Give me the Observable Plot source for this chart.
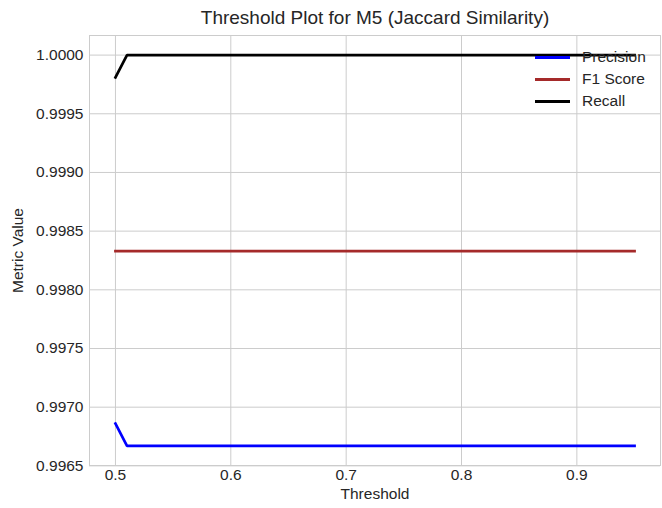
<!DOCTYPE html>
<html>
<head>
<meta charset="utf-8">
<script src="https://cdn.jsdelivr.net/npm/d3@7"></script>
<script src="https://cdn.jsdelivr.net/npm/@observablehq/plot@0.6"></script>
<style>
  html, body { margin: 0; padding: 0; background: #fff; }
  #wrap { position: relative; width: 662px; height: 508px; font-family: "Liberation Sans", Arial, sans-serif; color: #262626; }
  #title { box-sizing: border-box; height: 34px; padding-top: 8px; line-height: 19px; font-size: 19px; text-align: center; padding-left: 88px; }
  #legend { position: absolute; left: 535px; top: 46px; font-size: 15.5px; }
  .item { display: flex; align-items: center; height: 22.2px; }
  .swatch { width: 35px; height: 3px; margin-right: 12px; }
</style>
</head>
<body>
<div id="wrap">
  <div id="title">Threshold Plot for M5 (Jaccard Similarity)</div>
  <div id="chart"></div>
  <div id="legend"></div>
</div>
<script>
const thresholds = [0.50, 0.51, 0.52, 0.53, 0.54, 0.55, 0.56, 0.57, 0.58, 0.59,
                    0.60, 0.61, 0.62, 0.63, 0.64, 0.65, 0.66, 0.67, 0.68, 0.69,
                    0.70, 0.71, 0.72, 0.73, 0.74, 0.75, 0.76, 0.77, 0.78, 0.79,
                    0.80, 0.81, 0.82, 0.83, 0.84, 0.85, 0.86, 0.87, 0.88, 0.89,
                    0.90, 0.91, 0.92, 0.93, 0.94, 0.95];
const precision = [0.99686, 0.99667, 0.99667, 0.99667, 0.99667, 0.99667, 0.99667, 0.99667, 0.99667, 0.99667,
                   0.99667, 0.99667, 0.99667, 0.99667, 0.99667, 0.99667, 0.99667, 0.99667, 0.99667, 0.99667,
                   0.99667, 0.99667, 0.99667, 0.99667, 0.99667, 0.99667, 0.99667, 0.99667, 0.99667, 0.99667,
                   0.99667, 0.99667, 0.99667, 0.99667, 0.99667, 0.99667, 0.99667, 0.99667, 0.99667, 0.99667,
                   0.99667, 0.99667, 0.99667, 0.99667, 0.99667, 0.99667];
const f1 = [0.99833, 0.99833, 0.99833, 0.99833, 0.99833, 0.99833, 0.99833, 0.99833, 0.99833, 0.99833,
            0.99833, 0.99833, 0.99833, 0.99833, 0.99833, 0.99833, 0.99833, 0.99833, 0.99833, 0.99833,
            0.99833, 0.99833, 0.99833, 0.99833, 0.99833, 0.99833, 0.99833, 0.99833, 0.99833, 0.99833,
            0.99833, 0.99833, 0.99833, 0.99833, 0.99833, 0.99833, 0.99833, 0.99833, 0.99833, 0.99833,
            0.99833, 0.99833, 0.99833, 0.99833, 0.99833, 0.99833];
const recall = [0.99981, 1.0, 1.0, 1.0, 1.0, 1.0, 1.0, 1.0, 1.0, 1.0,
                1.0, 1.0, 1.0, 1.0, 1.0, 1.0, 1.0, 1.0, 1.0, 1.0,
                1.0, 1.0, 1.0, 1.0, 1.0, 1.0, 1.0, 1.0, 1.0, 1.0,
                1.0, 1.0, 1.0, 1.0, 1.0, 1.0, 1.0, 1.0, 1.0, 1.0,
                1.0, 1.0, 1.0, 1.0, 1.0, 1.0];
const seriesNames = ["Precision", "F1 Score", "Recall"];
const seriesColors = ["#0000ff", "#a52a2a", "#000000"];
const xTicks = [0.5, 0.6, 0.7, 0.8, 0.9];
const yTicks = [0.9965, 0.9970, 0.9975, 0.9980, 0.9985, 0.9990, 0.9995, 1.0000];

const seriesValues = [precision, f1, recall];
const rows = [];
seriesNames.forEach((name, i) => {
  thresholds.forEach((t, j) => rows.push({series: name, threshold: t, value: seriesValues[i][j]}));
});

const chart = Plot.plot({
  width: 662,
  height: 474,
  marginLeft: 89,
  marginRight: 2,
  marginTop: 1,
  marginBottom: 43,
  style: {fontFamily: '"Liberation Sans", Arial, sans-serif', fontSize: "15.5px", color: "#262626", background: "#fff"},
  x: {domain: [0.4775, 0.9725]},
  y: {domain: [0.996503, 1.000167]},
  color: {domain: seriesNames, range: seriesColors},
  marks: [
    Plot.gridX(xTicks, {stroke: "#cccccc", strokeOpacity: 1, strokeWidth: 1}),
    Plot.gridY(yTicks, {stroke: "#cccccc", strokeOpacity: 1, strokeWidth: 1}),
    Plot.frame({stroke: "#cccccc", strokeWidth: 1}),
    Plot.axisX(xTicks, {tickSize: 0, tickPadding: 3, tickFormat: d3.format(".1f"), label: "Threshold", labelAnchor: "center", labelArrow: "none", labelOffset: 33}),
    Plot.axisY(yTicks, {tickSize: 0, tickPadding: 6, tickFormat: d3.format(".4f"), label: "Metric Value", labelAnchor: "center", labelArrow: "none", labelOffset: 78}),
    Plot.line(rows, {x: "threshold", y: "value", z: "series", stroke: "series", strokeWidth: 2.7, strokeLinejoin: "miter", strokeLinecap: "square"})
  ]
});
document.getElementById("chart").appendChild(chart);

const legend = document.getElementById("legend");
seriesNames.forEach((name, i) => {
  const item = document.createElement("div");
  item.className = "item";
  const sw = document.createElement("span");
  sw.className = "swatch";
  sw.style.background = seriesColors[i];
  const tx = document.createElement("span");
  tx.textContent = name;
  item.appendChild(sw);
  item.appendChild(tx);
  legend.appendChild(item);
});
</script>
</body>
</html>
